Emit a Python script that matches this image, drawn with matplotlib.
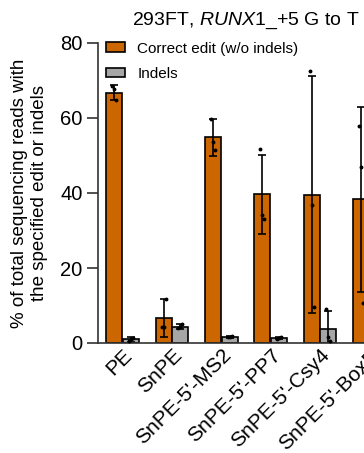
import matplotlib
matplotlib.use("Agg")
import matplotlib.pyplot as plt
import numpy as np

plt.rcParams['font.family'] = ['Liberation Sans', 'DejaVu Sans']
plt.rcParams['mathtext.fontset'] = 'custom'
plt.rcParams['mathtext.rm'] = 'Liberation Sans'
plt.rcParams['mathtext.it'] = 'Liberation Sans:italic'

categories = ["PE", "SnPE", "SnPE-5'-MS2", "SnPE-5'-PP7", "SnPE-5'-Csy4", "SnPE-5'-BoxB"]
correct_mean = [66.7, 6.7, 54.8, 39.6, 39.5, 38.3]
correct_sd = [2.0, 5.0, 5.0, 10.5, 31.6, 24.6]
correct_points = [[68.4, 67.8, 64.9], [4.2, 4.3, 11.8], [59.8, 53.7, 51.5],
                  [51.7, 34.1, 33.0], [72.4, 36.8, 9.5], [57.9, 46.8, 10.8]]
indel_mean = [1.0, 4.4, 1.7, 1.3, 3.7, 1.5]
indel_sd = [0.6, 0.6, 0.3, 0.3, 4.8, 0.5]
indel_points = [[0.5, 1.2, 1.4], [4.0, 4.2, 5.0], [1.5, 1.7, 2.0],
                [1.0, 1.3, 1.6], [9.0, 1.5, 0.5], [1.0, 1.5, 2.0]]
yticks = [0, 20, 40, 60, 80]
legend_labels = ["Correct edit (w/o indels)", "Indels"]

ORANGE = "#CC6600"
GRAY = "#A6A6A6"

W, H = 364, 453
fig = plt.figure(figsize=(W / 100, H / 100), dpi=100)
ax_left, ax_right, ax_top, ax_bottom = 98, 394, 43, 343
ax = fig.add_axes([ax_left / W, (H - ax_bottom) / H, (ax_right - ax_left) / W, (ax_bottom - ax_top) / H])

x = np.arange(len(categories))
bw = 0.32
off = 0.17
ekw = dict(elinewidth=1.2, capthick=1.2, ecolor='black')
b1 = ax.bar(x - off, correct_mean, bw, color=ORANGE, edgecolor='black', linewidth=1.2,
            yerr=correct_sd, capsize=3.2, error_kw=ekw, label=legend_labels[0], zorder=2)
b2 = ax.bar(x + off, indel_mean, bw, color=GRAY, edgecolor='black', linewidth=1.2,
            yerr=indel_sd, capsize=3.2, error_kw=ekw, label=legend_labels[1], zorder=2)

jit = [-0.04, 0.0, 0.04]
for i in range(len(categories)):
    for j, v in enumerate(correct_points[i]):
        ax.plot(x[i] - off + jit[j], v, 'o', color='black', ms=1.8, zorder=4)
    for j, v in enumerate(indel_points[i]):
        ax.plot(x[i] + off + jit[j], v, 'o', color='black', ms=1.8, zorder=4)

ax.set_xlim(-0.5, 5.5)
ax.set_ylim(0, 80)
ax.set_yticks(yticks)
ax.set_xticks(x)
ax.set_xticklabels(categories, rotation=45, ha='right', rotation_mode='anchor', fontsize=15)
ax.tick_params(axis='y', labelsize=14.5, length=8, width=1.2, color='#333333', pad=3)
ax.tick_params(axis='x', length=0, pad=2)
for s in ['top', 'right']:
    ax.spines[s].set_visible(False)
for s in ['left', 'bottom']:
    ax.spines[s].set_linewidth(1.2)
    ax.spines[s].set_color('#333333')

ax.set_ylabel("% of total sequencing reads with\nthe specified edit or indels", fontsize=13.5, labelpad=9,
              linespacing=1.2)
ax.set_title(r"293FT, $\mathit{RUNX1}$_+5 G to T", fontsize=14, pad=13)

ax.legend(handles=[b1.patches[0], b2.patches[0]], labels=legend_labels, loc='upper left',
          bbox_to_anchor=(0.027, 1.005), frameon=False, fontsize=11, handlelength=1.25,
          handleheight=0.55, handletextpad=0.8, borderaxespad=0, borderpad=0, labelspacing=0.75)

fig.savefig("out.png", dpi=100)
